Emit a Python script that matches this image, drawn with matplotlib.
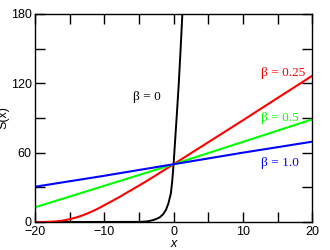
import numpy as np
import matplotlib
matplotlib.use("Agg")
import matplotlib.pyplot as plt
from matplotlib.ticker import MultipleLocator

# values
x_b0 = [-20, -5, -4, -3.5, -3, -2.5, -2, -1.5, -1.1, -0.75, -0.4, -0.2, 0, 0.25, 0.5, 0.75, 1.0, 1.3]
s_b0 = [0, 0.1, 0.4, 0.9, 1.6, 2.6, 4.0, 6.8, 10.5, 16, 24.5, 35, 50, 73, 96, 120, 148, 184]

x_b025 = [-20, -19, -18, -17, -16, -15, -14, -13, -12, -11, -10, -8, -6, -4, -2, 0, 5, 10, 15, 20]
s_b025 = [0, 0, 0.15, 0.5, 1.2, 2.4, 4.0, 6.0, 8.5, 11.3, 14.5, 21, 28, 35, 42.5, 50, 69, 88, 107.3, 126.5]

x_b05 = [-20, -10, 0, 10, 20]
s_b05 = [12.7, 31.3, 50, 69.3, 88.8]

x_b1 = [-20, -10, 0, 10, 20]
s_b1 = [30.5, 40, 50, 60, 69.5]

labels = ["β = 0", "β = 0.25", "β = 0.5", "β = 1.0"]
colors = ["black", "#ff0000", "#00ff00", "#0000ff"]

plt.rcParams['font.family'] = ['Liberation Sans', 'DejaVu Sans']

fig = plt.figure(figsize=(3.3, 2.5), dpi=100)
ax = fig.add_axes([0.106, 0.112, 0.84, 0.832])

ax.plot(x_b0, s_b0, color=colors[0], lw=1.4)
ax.plot(x_b025, s_b025, color=colors[1], lw=1.5)
ax.plot(x_b05, s_b05, color=colors[2], lw=1.5)
ax.plot(x_b1, s_b1, color=colors[3], lw=1.5)

ax.set_xlim(-20, 20)
ax.set_ylim(0, 180)
ax.xaxis.set_major_locator(MultipleLocator(10))
ax.xaxis.set_minor_locator(MultipleLocator(5))
ax.yaxis.set_major_locator(MultipleLocator(60))
ax.yaxis.set_minor_locator(MultipleLocator(30))
ax.tick_params(which='both', direction='in', top=True, right=True,
               length=7.2, width=1.0, labelsize=9, pad=3)
ax.tick_params(axis='y', pad=2.4)
for sp in ax.spines.values():
    sp.set_linewidth(1.0)

ax.set_xlabel("x", fontsize=9, style='italic')
ax.xaxis.set_label_coords(0.5, -0.075)
ax.set_ylabel("S(x)", fontsize=9)
ax.yaxis.set_label_coords(-0.092, 0.5)

serif = ['Liberation Serif', 'DejaVu Serif']
ax.text(-3.84, 108, labels[0], color=colors[0], fontsize=9.5, family=serif, ha='center', va='center')
ax.text(15.8, 129, labels[1], color=colors[1], fontsize=9.5, family=serif, ha='center', va='center')
ax.text(15.35, 90, labels[2], color=colors[2], fontsize=9.5, family=serif, ha='center', va='center')
ax.text(15.35, 51, labels[3], color=colors[3], fontsize=9.5, family=serif, ha='center', va='center')

fig.savefig("out.png", dpi=100)
